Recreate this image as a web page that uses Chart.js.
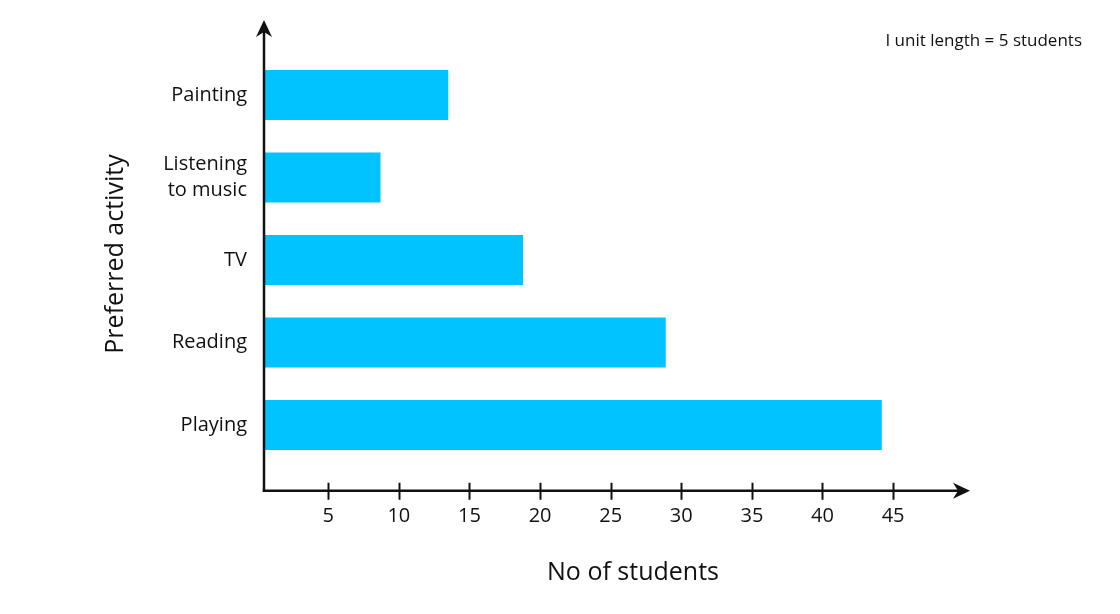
<!DOCTYPE html>
<html><head><meta charset="utf-8">
<script src="https://cdn.jsdelivr.net/npm/chart.js@4/dist/chart.umd.min.js"></script>
<style>html,body{margin:0;padding:0;background:#fff}#wrap{width:1120px;height:614px}</style>
</head><body><div id="wrap"><canvas id="c" width="1120" height="614"></canvas></div>
<script>
const categories = [['Painting'], ['Listening', 'to music'], ['TV'], ['Reading'], ['Playing']];
const studentCounts = [13.5, 8.7, 18.8, 28.9, 44.2];
const xTickValues = [5, 10, 15, 20, 25, 30, 35, 40, 45];
const xTitle = 'No of students';
const yTitle = 'Preferred activity';
const noteText = 'I unit length = 5 students';

const FONT = "'Open Sans', 'Noto Sans', sans-serif";
const INK = '#111';

const axisPlugin = {
  id: 'axes',
  afterDraw(chart) {
    const { ctx, chartArea: a, scales: { x } } = chart;
    const ax = a.left, ay = a.bottom + 24.5;
    ctx.save();
    ctx.strokeStyle = INK; ctx.fillStyle = INK; ctx.lineWidth = 2.5;
    // y axis
    ctx.beginPath(); ctx.moveTo(ax, ay + 1.2); ctx.lineTo(ax, 30); ctx.stroke();
    ctx.beginPath(); ctx.moveTo(ax, 20); ctx.lineTo(ax + 8, 37); ctx.lineTo(ax, 32); ctx.lineTo(ax - 8, 37); ctx.closePath(); ctx.fill();
    // x axis
    ctx.beginPath(); ctx.moveTo(ax - 1.2, ay); ctx.lineTo(960, ay); ctx.stroke();
    ctx.beginPath(); ctx.moveTo(970, ay); ctx.lineTo(953, ay - 8); ctx.lineTo(958, ay); ctx.lineTo(953, ay + 8); ctx.closePath(); ctx.fill();
    // tick marks
    ctx.lineWidth = 2;
    x.ticks.forEach(t => {
      const px = Math.round(x.getPixelForValue(t.value)) + 0.5;
      ctx.beginPath(); ctx.moveTo(px, ay - 8); ctx.lineTo(px, ay + 9); ctx.stroke();
    });
    // titles
    ctx.textBaseline = 'middle';
    ctx.textAlign = 'center';
    ctx.font = `25px ${FONT}`;
    ctx.fillText(xTitle, 633, 573);
    ctx.save();
    ctx.translate(116, 254); ctx.rotate(-Math.PI / 2);
    ctx.fillText(yTitle, 0, 0);
    ctx.restore();
    ctx.textAlign = 'right';
    ctx.font = `17px ${FONT}`;
    ctx.fillText(noteText, 1082, 41);
    ctx.restore();
  }
};

new Chart(document.getElementById('c'), {
  type: 'bar',
  data: {
    labels: categories,
    datasets: [{
      data: studentCounts,
      backgroundColor: '#00c3ff',
      borderWidth: 0,
      categoryPercentage: 1,
      barPercentage: 0.606,
      clip: 0
    }]
  },
  options: {
    indexAxis: 'y',
    responsive: false,
    animation: false,
    devicePixelRatio: 1,
    layout: { padding: { left: 134, right: 156.3, top: 53.75, bottom: 47.75 } },
    plugins: { legend: { display: false }, tooltip: { enabled: false }, title: { display: false } },
    scales: {
      x: {
        type: 'linear', min: 0.45, max: 50,
        grid: { display: false, drawTicks: false },
        border: { display: false },
        ticks: { font: { family: FONT, size: 20 }, color: INK, padding: 38 },
        afterBuildTicks: s => { s.ticks = xTickValues.map(v => ({ value: v })); },
        afterFit: s => { s.height = 100; }
      },
      y: {
        type: 'category',
        grid: { display: false, drawTicks: false },
        border: { display: false },
        ticks: { font: { family: FONT, size: 20, lineHeight: 1.3 }, color: INK, padding: 17 },
        afterFit: s => { s.width = 130; }
      }
    }
  },
  plugins: [axisPlugin]
});
</script>
</body></html>
